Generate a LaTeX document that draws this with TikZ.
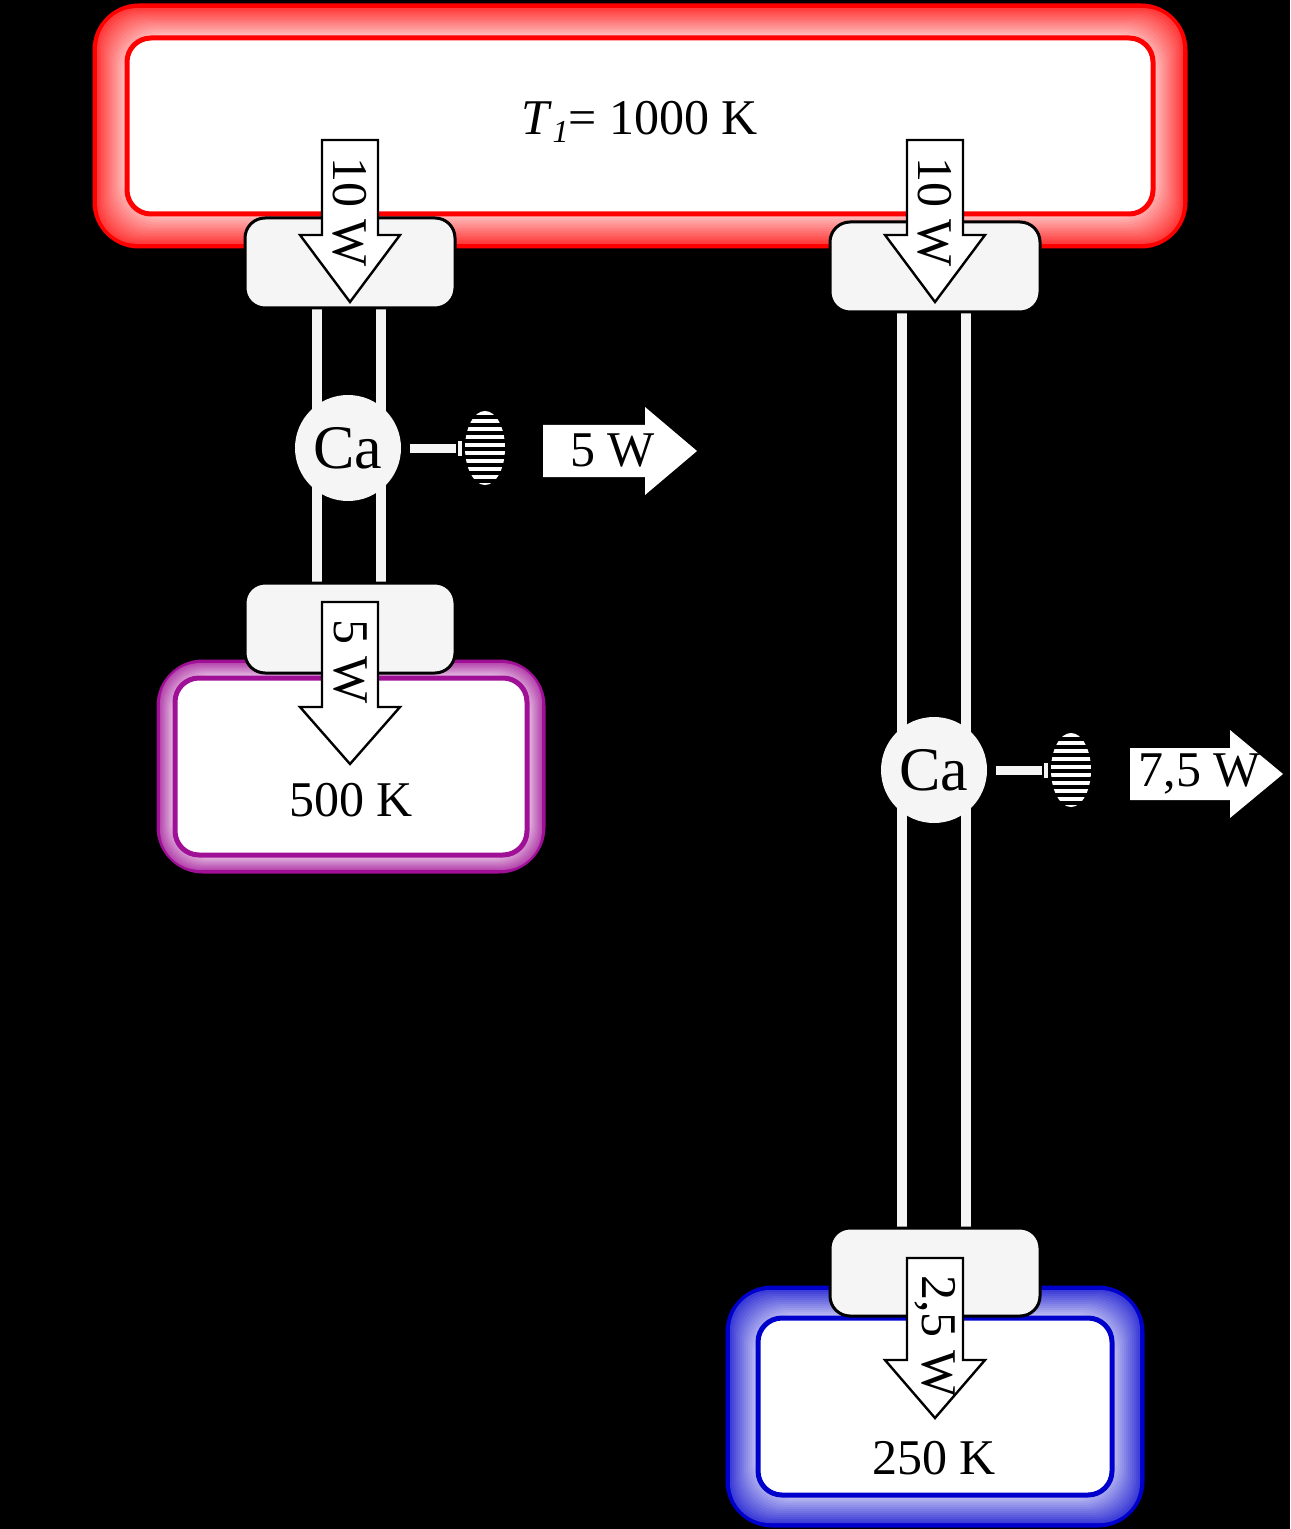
\documentclass[tikz,border=0pt]{standalone}
\usepackage{fontspec}
\setmainfont{Liberation Serif}
\definecolor{purp}{RGB}{160,16,150}
\begin{document}
\begin{tikzpicture}[x=0.5pt,y=-0.5pt,
 blk/.style={fill=black!4,draw=black,line width=1.5pt,rounded corners=10pt},
 rail/.style={fill=black!4},
 lab/.style={font=\fontsize{25}{28}\selectfont},
 arr/.style={fill=white,draw=black,line width=1.2pt,line join=miter}]
\fill[black] (0,0) rectangle (1290,1529);
\useasboundingbox (0,0) rectangle (1290,1529);
% glow reservoirs
\newcommand{\glowbox}[7]{% x1 y1 x2 y2 color name pad
 \draw[#5,line width=2.5pt,rounded corners=22pt,fill=#5] (#1-#7,#2-#7) rectangle (#3+#7,#4+#7);
 \foreach \i in {14,...,0}{
   \pgfmathsetmacro{\o}{\i*#7/15}
   \pgfmathsetmacro{\c}{20+\i*4}
   \fill[#5!\c!white,rounded corners=20pt] (#1-\o,#2-\o) rectangle (#3+\o,#4+\o);}
 \node[draw=#5,line width=2.5pt,fill=white,rounded corners=12pt,minimum width={(#3-#1)*0.5pt},minimum height={(#4-#2)*0.5pt}] (#6) at ({(#1+#3)/2},{(#2+#4)/2}) {};
}
\glowbox{127}{38}{1153}{214}{red}{hot}{32}
\glowbox{175}{678}{527}{855}{purp}{mid}{16}
\glowbox{758}{1318}{1112}{1495}{blue!80!black}{cold}{30}
\node[lab] (thot) at (640,122) {\textit{T}\raisebox{-0.35ex}{\fontsize{16}{18}\selectfont\textit{1}}= 1000 K};
\node[lab] (tmid) at (351,800) {500 K};
\node[lab] (tcold) at (934,1458) {250 K};
% rails
\fill[rail] (312,300) rectangle (322,590); \fill[rail] (376,300) rectangle (386,590);
\fill[rail] (897,300) rectangle (907,1235); \fill[rail] (961,300) rectangle (971,1235);
% blocks
\node[blk,minimum width=105pt,minimum height=45pt] (b1) at (350,263) {};
\node[blk,minimum width=105pt,minimum height=45pt] (b2) at (350,628) {};
\node[blk,minimum width=105pt,minimum height=45pt] (b3) at (935,267) {};
\node[blk,minimum width=105pt,minimum height=44pt] (b4) at (935,1272) {};
% engines
\newcommand{\engine}[3]{% cx cy name
 \node[circle,fill=black!4,minimum size=53pt,inner sep=0pt,font=\fontsize{31}{32}\selectfont] (#3) at (#1,#2) {Ca};
 \fill[black!4] (#1+62,#2-4) rectangle (#1+108,#2+5);
 \fill[black!4] (#1+110,#2-7) rectangle (#1+114,#2+8);
 \begin{scope}
  \clip (#1+137,#2) ellipse [x radius=20, y radius=37];
  \foreach \k in {0,...,9}{\fill[white] (#1+110,#2-37+\k*8) rectangle (#1+165,#2-33+\k*8);}
 \end{scope}
}
\engine{348}{448}{ca1}
\engine{934}{770}{ca2}
% work arrows
\fill[white] (543,425) -- (645,425) -- (645,407) -- (697,451) -- (645,495) -- (645,477) -- (543,477) -- cycle;
\node[lab,anchor=east] (w1) at (662,451) {5 W};
\fill[white] (1130,748) -- (1230,748) -- (1230,730) -- (1283,774) -- (1230,818) -- (1230,800) -- (1130,800) -- cycle;
\node[lab,anchor=east] (w2) at (1268,774) {7,5 W};
% heat arrows
\newcommand{\downarr}[5]{% cx ytop yneck ytip label
 \draw[arr] (#1-28,#2) -- (#1+28,#2) -- (#1+28,#3) -- (#1+50,#3) -- (#1,#4) -- (#1-50,#3) -- (#1-28,#3) -- cycle;
 \node[lab,rotate=-90,anchor=west] at (#1,#2+10) {#5};
}
\downarr{350}{140}{235}{302}{10 W}
\downarr{935}{140}{235}{302}{10 W}
\downarr{350}{602}{707}{764}{5 W}
\downarr{935}{1258}{1360}{1418}{2,5 W}
\end{tikzpicture}
\end{document}
